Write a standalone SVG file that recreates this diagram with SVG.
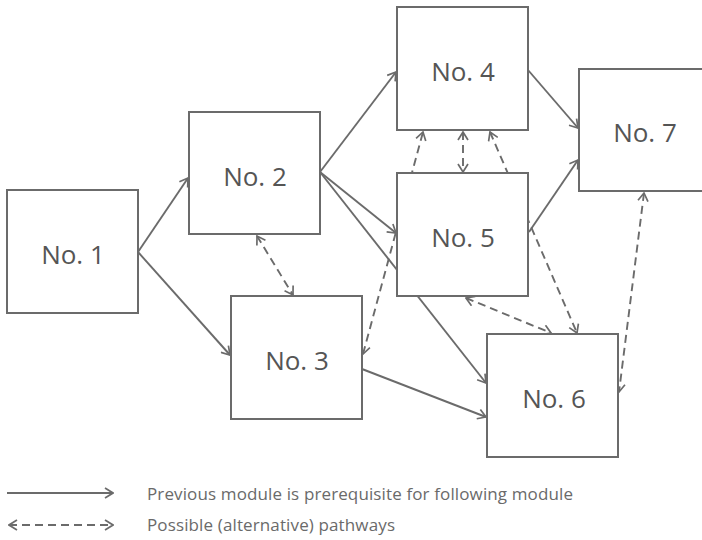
<svg xmlns="http://www.w3.org/2000/svg" width="702" height="540" viewBox="0 0 702 540">
  <style>
    .box { fill: #ffffff; stroke: #6b6b6b; stroke-width: 2; }
    .lbl { font-family: "Open Sans", "Liberation Sans", sans-serif; font-size: 26px; fill: #555555; text-anchor: middle; }
    .leg { font-family: "Open Sans", "Liberation Sans", sans-serif; font-size: 17px; fill: #6a6a6a; }
    .solid { fill: none; stroke: #6b6b6b; stroke-width: 1.9; marker-end: url(#arr); }
    .dash { fill: none; stroke: #6b6b6b; stroke-width: 1.9; stroke-dasharray: 8 5; marker-start: url(#arr); marker-end: url(#arr); }
  </style>
  <defs>
    <marker id="arr" viewBox="0 0 10 12" refX="9" refY="6" markerWidth="10" markerHeight="12" markerUnits="userSpaceOnUse" orient="auto-start-reverse">
      <path d="M1,1 L9,6 L1,11" fill="none" stroke="#6b6b6b" stroke-width="1.7" stroke-dasharray="none"/>
    </marker>
  </defs>
  <rect width="702" height="540" fill="#ffffff"/>
  <g id="connectors">
    <line class="solid" x1="138" y1="252" x2="188" y2="178"/>
    <line class="solid" x1="138" y1="252" x2="230" y2="355"/>
    <line class="solid" x1="320" y1="172" x2="396" y2="72"/>
    <line class="solid" x1="320" y1="172" x2="396" y2="233"/>
    <line class="solid" x1="320" y1="172" x2="486" y2="383"/>
    <line class="solid" x1="362" y1="369" x2="486" y2="417"/>
    <line class="solid" x1="528" y1="70" x2="578" y2="128"/>
    <line class="solid" x1="529" y1="232" x2="578" y2="160"/>
    <line class="dash" x1="257" y1="236" x2="293" y2="295"/>
    <line class="dash" x1="363" y1="354" x2="423" y2="132"/>
    <line class="dash" x1="463" y1="132" x2="463" y2="172"/>
    <line class="dash" x1="490" y1="132" x2="577" y2="333"/>
    <line class="dash" x1="466" y1="298" x2="551" y2="333"/>
    <line class="dash" x1="644" y1="193" x2="619" y2="392"/>
  </g>
  <g id="n1"><rect class="box" x="7" y="190" width="131" height="123"/><text class="lbl" x="73" y="264">No. 1</text></g>
  <g id="n2"><rect class="box" x="189" y="112" width="131" height="122"/><text class="lbl" x="255" y="186">No. 2</text></g>
  <g id="n3"><rect class="box" x="231" y="296" width="131" height="123"/><text class="lbl" x="297" y="370">No. 3</text></g>
  <g id="n4"><rect class="box" x="397" y="7" width="131" height="123"/><text class="lbl" x="463" y="81">No. 4</text></g>
  <g id="n5"><rect class="box" x="397" y="173" width="131" height="123"/><text class="lbl" x="463" y="247">No. 5</text></g>
  <g id="n6"><rect class="box" x="487" y="334" width="131" height="123"/><text class="lbl" x="554" y="408">No. 6</text></g>
  <g id="n7"><rect class="box" x="579" y="69" width="131" height="122"/><text class="lbl" x="645" y="142">No. 7</text></g>
  <g id="legend">
    <line class="solid" x1="7" y1="493" x2="113" y2="493"/>
    <line class="dash" x1="9" y1="525" x2="113" y2="525"/>
    <text class="leg" x="147" y="500" textLength="426" lengthAdjust="spacing">Previous module is prerequisite for following module</text>
    <text class="leg" x="147" y="531" textLength="248" lengthAdjust="spacing">Possible (alternative) pathways</text>
  </g>
</svg>
